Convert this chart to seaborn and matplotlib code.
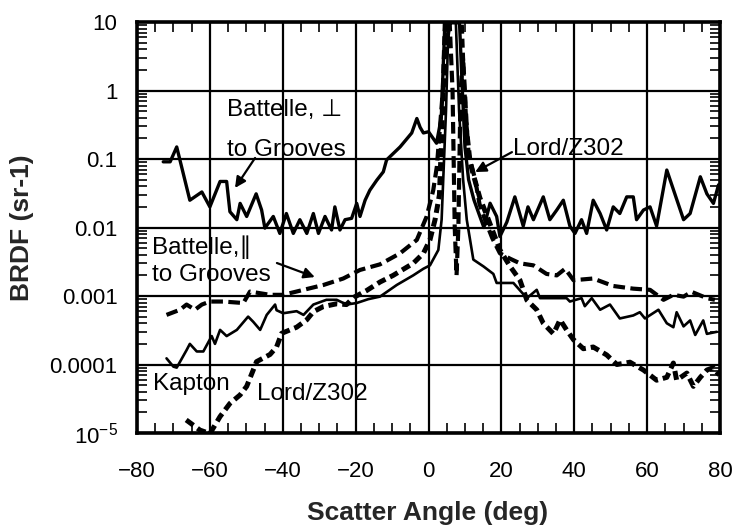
import numpy as np
import pandas as pd
import matplotlib
matplotlib.use("Agg")
import matplotlib.pyplot as plt
import seaborn as sns
from matplotlib.ticker import FixedLocator, LogLocator, NullFormatter, MultipleLocator

# ---------------- data ----------------
perp_x = [-72.8, -70.9, -69.1, -65.5, -62.2, -60.0, -57.2, -55.4, -54.5, -52.6,
          -51.7, -49.9, -47.3, -45.8, -44.9, -42.6, -40.8, -39.0, -37.1, -35.3,
          -33.4, -31.6, -30.2, -28.4, -26.6, -25.7, -24.3, -22.9, -21.1, -19.7,
          -18.8, -17.4, -16.1, -14.2, -12.4, -11.5, -7.8, -4.6, -3.2, -2.3,
          -1.4, 0.0, 2.2, 3.5, 4.5, 6.5, 8.5, 9.3, 10.0, 11.0,
          12.5, 14.0, 15.2, 16.9, 18.7, 19.6, 21.5, 23.7, 26.0, 27.3,
          28.8, 31.5, 33.3, 35.2, 37.0, 38.8, 40.2, 42.0, 43.4, 45.2,
          47.1, 48.9, 50.7, 52.5, 54.4, 56.2, 57.1, 59.0, 60.8, 62.6,
          65.4, 70.0, 71.8, 74.6, 76.4, 78.2, 79.6]
perp_y = [0.091, 0.091, 0.15, 0.025, 0.033, 0.020, 0.047, 0.047, 0.017, 0.013,
          0.0225, 0.0145, 0.031, 0.018, 0.0098, 0.0145, 0.0082, 0.016, 0.0082, 0.013,
          0.0082, 0.016, 0.0082, 0.0145, 0.0092, 0.020, 0.0092, 0.013, 0.0136, 0.0225,
          0.0145, 0.025, 0.035, 0.049, 0.065, 0.097, 0.15, 0.24, 0.39, 0.29,
          0.24, 0.25, 0.17, 0.4, 10, 10, 10, 1.0, 0.15, 0.05,
          0.025, 0.015, 0.010, 0.0226, 0.0145, 0.0074, 0.012, 0.028, 0.0105, 0.020,
          0.013, 0.028, 0.013, 0.018, 0.025, 0.0105, 0.0082, 0.013, 0.0082, 0.025,
          0.016, 0.0092, 0.020, 0.016, 0.028, 0.028, 0.013, 0.018, 0.020, 0.0105,
          0.069, 0.013, 0.016, 0.055, 0.031, 0.0225, 0.042]

par_x = [-71.9, -68.2, -66.4, -64.1, -62.2, -60.0, -56.3, -50.8, -49.0, -43.5,
         -39.9, -34.3, -28.8, -23.4, -18.8, -13.3, -7.8, -3.2, -0.5, 1.3,
         2.3, 3.5, 4.8, 5.8, 6.6, 7.2, 7.7, 8.2, 8.8, 9.5,
         10.5, 11.0, 12.8, 14.0, 15.5, 17.5, 19.6, 22.4, 25.1, 28.8,
         32.4, 35.2, 37.5, 39.8, 45.2, 50.7, 56.2, 60.8, 64.5, 67.2,
         70.0, 72.2, 76.4, 78.6]
par_y = [0.00053, 0.00063, 0.00075, 0.00063, 0.00075, 0.00083, 0.00083, 0.00079, 0.00116, 0.00104,
         0.00104, 0.00123, 0.00145, 0.0018, 0.0024, 0.0029, 0.0042, 0.0066, 0.0145, 0.035,
         0.078, 0.5, 4.0, 10, 1.0, 0.01, 0.002, 0.01, 1.0, 3.0,
         0.3, 0.12, 0.05, 0.022, 0.013, 0.007, 0.0042, 0.0035, 0.003, 0.0028,
         0.0021, 0.002, 0.0025, 0.0017, 0.0018, 0.0014, 0.00128, 0.00123, 0.00088, 0.00104,
         0.00098, 0.00115, 0.00093, 0.00088]

kapton_x = [-71.9, -70.0, -69.1, -66.4, -65.5, -63.6, -61.8, -59.5, -58.6, -57.2,
            -55.4, -52.6, -49.5, -48.1, -46.2, -44.4, -42.1, -41.7, -39.9, -36.2,
            -34.3, -31.6, -28.0, -25.2, -22.5, -19.7, -16.5, -13.3, -8.7, -4.2,
            -1.4, 0.4, 2.7, 3.6, 4.8, 5.5, 7.5, 8.4, 9.5, 10.5,
            12.3, 15.1, 17.8, 18.7, 23.3, 27.0, 29.7, 30.6, 37.9, 38.8,
            42.0, 42.9, 44.8, 47.1, 49.8, 52.5, 56.2, 58.0, 59.4, 63.1,
            65.4, 67.2, 68.1, 70.0, 71.8, 73.2, 75.4, 76.4, 79.1]
kapton_y = [0.000123, 0.000093, 0.00009, 0.000162, 0.0002, 0.000155, 0.000155, 0.00026, 0.0002, 0.00032,
            0.00026, 0.00032, 0.0005, 0.00042, 0.00032, 0.00053, 0.00075, 0.00062, 0.00056, 0.0006,
            0.00053, 0.00075, 0.00088, 0.00088, 0.00075, 0.00079, 0.0009, 0.00098, 0.00145, 0.002,
            0.0025, 0.0028, 0.0047, 0.013, 0.5, 10, 10, 0.5, 0.05, 0.013,
            0.0034, 0.0027, 0.0021, 0.00155, 0.00155, 0.00093, 0.00123, 0.00093, 0.00093, 0.00083,
            0.00093, 0.00071, 0.00093, 0.00063, 0.00075, 0.00047, 0.00052, 0.00058, 0.00047, 0.00063,
            0.0004, 0.00035, 0.00058, 0.00036, 0.00044, 0.00027, 0.00044, 0.00028, 0.0003]

lord_x = [-66.5, -62.7, -60.0, -59.0, -57.2, -54.5, -51.7, -49.9, -48.1, -47.2,
          -43.5, -41.7, -40.3, -38.0, -36.2, -33.4, -31.6, -28.9, -25.2, -22.5,
          -20.6, -17.0, -13.3, -9.7, -4.2, -1.4, 0.4, 1.8, 3.0, 3.5,
          4.0, 4.6, 6.8, 9.0, 9.6, 10.3, 11.4, 12.3, 14.1, 16.0,
          19.6, 22.4, 25.1, 27.0, 29.7, 31.5, 34.3, 36.1, 37.9, 39.8,
          42.5, 45.2, 48.9, 51.7, 55.3, 59.0, 62.6, 65.4, 67.2, 68.1,
          70.9, 72.7, 74.6, 76.4, 78.2, 79.8]
lord_y = [1.55e-5, 1.1e-5, 9.8e-6, 1.2e-5, 1.74e-5, 2.7e-5, 3.6e-5, 4.8e-5, 8.3e-5, 1.1e-4,
          1.4e-4, 1.8e-4, 2.85e-4, 3.2e-4, 3.5e-4, 4.5e-4, 5.9e-4, 7.0e-4, 7.7e-4, 7.5e-4,
          9.5e-4, 0.0012, 0.0016, 0.002, 0.003, 0.0042, 0.0066, 0.013, 0.03, 0.15,
          0.8, 10, 10, 10, 1.35, 0.31, 0.09, 0.059, 0.027, 0.015,
          0.0047, 0.0027, 0.0017, 0.00087, 0.00063, 0.0004, 0.00028, 0.00045, 0.00032, 0.00023,
          0.00017, 0.00018, 0.000138, 0.0001, 0.000108, 8.3e-5, 5.9e-5, 6.5e-5, 1.05e-4, 5.9e-5,
          7.5e-5, 4.8e-5, 6.5e-5, 8.3e-5, 9.0e-5, 7.0e-5]

x_ticks = [-80, -60, -40, -20, 0, 20, 40, 60, 80]
y_ticks = [1e-5, 1e-4, 1e-3, 1e-2, 1e-1, 1, 10]
y_tick_labels = ["$10^{-5}$", "0.0001", "0.001", "0.01", "0.1", "1", "10"]

series = {
    "Battelle perp": (perp_x, perp_y),
    "Battelle par": (par_x, par_y),
    "Kapton": (kapton_x, kapton_y),
    "Lord/Z302": (lord_x, lord_y),
}
df = pd.concat([pd.DataFrame({"angle": xs, "brdf": ys, "series": name})
                for name, (xs, ys) in series.items()], ignore_index=True)

# ---------------- style ----------------
sns.set_style("white")
plt.rcParams["font.family"] = ["Liberation Sans", "DejaVu Sans"]
plt.rcParams["mathtext.fontset"] = "custom"
plt.rcParams["mathtext.rm"] = "Liberation Sans"
plt.rcParams["mathtext.it"] = "Liberation Sans"
plt.rcParams["mathtext.bf"] = "Liberation Sans:bold"

fig = plt.figure(figsize=(7.43, 5.27), dpi=100)
ax = fig.add_axes([137 / 743, 94 / 527, 583 / 743, 411 / 527])

ax.set_yscale("log")
ax.set_xlim(-80, 80)
ax.set_ylim(1e-5, 10)

styles = {
    "Kapton": dict(lw=1.9, dashes=None),
    "Battelle perp": dict(lw=2.4, dashes=None),
    "Battelle par": dict(lw=3.0, dashes=(2.8, 1.3)),
    "Lord/Z302": dict(lw=3.6, dashes=(1.8, 1.0)),
}
for name in ["Kapton", "Battelle perp", "Battelle par", "Lord/Z302"]:
    sub = df[df["series"] == name]
    sns.lineplot(data=sub, x="angle", y="brdf", ax=ax, color="black",
                 lw=styles[name]["lw"], estimator=None, sort=False, legend=False)
    line = ax.lines[-1]
    line.set_zorder(3)
    line.set_solid_joinstyle("round")
    if styles[name]["dashes"] is not None:
        line.set_dashes(styles[name]["dashes"])

# grid & ticks
ax.xaxis.set_major_locator(FixedLocator(x_ticks))
ax.xaxis.set_minor_locator(MultipleLocator(5))
ax.set_yticks(y_ticks)
ax.set_yticklabels(y_tick_labels)
ax.yaxis.set_minor_locator(LogLocator(base=10, subs=np.arange(2, 10)))
ax.yaxis.set_minor_formatter(NullFormatter())
ax.grid(True, which="major", color="black", lw=1.6)
ax.set_axisbelow(True)
ax.tick_params(which="major", direction="in", length=0, labelsize=16, colors="black")
ax.tick_params(axis="y", which="major", pad=14)
ax.tick_params(axis="x", which="major", pad=20)
ax.tick_params(which="minor", direction="in", length=7, width=1.4,
               top=True, bottom=True, left=True, right=True)
for sp in ax.spines.values():
    sp.set_linewidth(2.6)
    sp.set_color("black")
    sp.set_zorder(4)

ax.set_xlabel("Scatter Angle (deg)", fontsize=19, fontweight="bold")
ax.set_ylabel("BRDF (sr-1)", fontsize=19, fontweight="bold")
ax.xaxis.label.set_verticalalignment("center")
ax.yaxis.label.set_verticalalignment("center")
ax.xaxis.set_label_coords(0.499, -0.195)
ax.yaxis.set_label_coords(-0.197, 0.50)

# annotations
tkw = dict(fontsize=17.5, color="black", va="baseline", ha="left", zorder=5)
ax.text(-55.3, 0.425, "Battelle, \u22a5", **tkw)
ax.text(-55.3, 0.1106, "to Grooves", **tkw)
ax.text(-75.9, 0.0041, "Battelle,\u2225", **tkw)
ax.text(-75.9, 0.00166, "to Grooves", **tkw)
ax.text(23.2, 0.114, "Lord/Z302", **tkw)
ax.text(-75.6, 4.25e-5, "Kapton", **tkw)
ax.text(-47.1, 3.03e-5, "Lord/Z302", **tkw)

akw = dict(arrowstyle="-|>", lw=1.6, color="black", mutation_scale=16, shrinkA=0, shrinkB=0)
ax.annotate("", xy=(-53.1, 0.0378), xytext=(-47.6, 0.1035), arrowprops=akw, zorder=5)
ax.annotate("", xy=(-31.2, 0.00189), xytext=(-41.6, 0.00303), arrowprops=akw, zorder=5)
ax.annotate("", xy=(12.8, 0.0645), xytext=(22.9, 0.126), arrowprops=akw, zorder=5)

fig.savefig("out.png", dpi=100)
